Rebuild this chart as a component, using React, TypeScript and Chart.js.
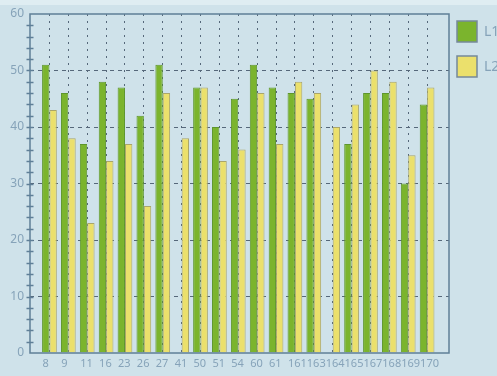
import { useEffect, useRef } from 'react';
import { Chart, registerables } from 'chart.js';

Chart.register(...registerables);

// Category labels along the x axis
const categories = ['8', '9', '11', '16', '23', '26', '27', '41', '50', '51', '54', '60', '61', '161', '163', '164', '165', '167', '168', '169', '170'];
// Series values
const seriesL1 = [51, 46, 37, 48, 47, 42, 51, 0, 47, 40, 45, 51, 47, 46, 45, 0, 37, 46, 46, 30, 44];
const seriesL2 = [43, 38, 23, 34, 37, 26, 46, 38, 47, 34, 36, 46, 37, 48, 46, 40, 44, 50, 48, 35, 47];
const seriesNames = ['L1', 'L2'];
// Value axis
const yMin = 0;
const yMax = 60;
const yMajorStep = 10;
const yMinorStep = 2;

const GREEN = '#7bb42d';
const GREEN_EDGE = '#5e962c';
const YELLOW = '#ebe06c';
const YELLOW_EDGE = '#aaa66a';
const AXIS = '#5f7f97';
const GRID = '#56687a';
const LABEL = '#86a3b9';
const FONT = '"Noto Sans", "DejaVu Sans", sans-serif';

const backdrop = {
  id: 'backdrop',
  beforeDraw(chart: any) {
    const { ctx, width, height } = chart;
    ctx.save();
    ctx.fillStyle = '#cfe2ea';
    ctx.fillRect(0, 0, width, height);
    ctx.fillStyle = '#dfedf2';
    ctx.fillRect(0, 0, width, 5);
    ctx.restore();
  },
};

const frameAndLegend = {
  id: 'frameAndLegend',
  afterDatasetsDraw(chart: any) {
    const { ctx, chartArea } = chart;
    const { left, right, top, bottom } = chartArea;
    const y = chart.scales.y;
    ctx.save();
    ctx.strokeStyle = AXIS;
    ctx.lineWidth = 1.5;
    ctx.strokeRect(left, top, right - left, bottom - top);
    // minor tick marks crossing the value axis
    ctx.beginPath();
    for (let v = yMin + yMinorStep; v < yMax; v += yMinorStep) {
      const py = Math.round(y.getPixelForValue(v)) + 0.5;
      ctx.moveTo(left - 3.5, py);
      ctx.lineTo(left + 3.5, py);
    }
    ctx.stroke();
    ctx.restore();
  },
  afterDraw(chart: any) {
    const { ctx, chartArea } = chart;
    const fills = [GREEN, YELLOW];
    ctx.save();
    ctx.font = `14px ${FONT}`;
    ctx.textBaseline = 'middle';
    ctx.textAlign = 'left';
    seriesNames.forEach((name, i) => {
      const bx = chartArea.right + 8;
      const by = chartArea.top + 7 + i * 35;
      ctx.fillStyle = fills[i];
      ctx.fillRect(bx, by, 20, 21);
      ctx.strokeStyle = '#76899a';
      ctx.lineWidth = 1.5;
      ctx.strokeRect(bx, by, 20, 21);
      ctx.fillStyle = LABEL;
      ctx.fillText(name, bx + 27, by + 11);
    });
    ctx.restore();
  },
};

export default function App() {
  const canvasRef = useRef<HTMLCanvasElement>(null);

  useEffect(() => {
    const canvas = canvasRef.current;
    if (!canvas) return;
    const chart = new Chart(canvas, {
      type: 'bar',
      data: {
        datasets: [
          {
            label: seriesNames[0],
            data: seriesL1.map((v, i) => ({ x: i, y: v })),
            backgroundColor: GREEN,
            borderColor: GREEN_EDGE,
            borderWidth: 1,
          },
          {
            label: seriesNames[1],
            data: seriesL2.map((v, i) => ({ x: i, y: v })),
            backgroundColor: YELLOW,
            borderColor: YELLOW_EDGE,
            borderWidth: 1,
          },
        ],
      },
      options: {
        animation: false,
        responsive: false,
        maintainAspectRatio: false,
        datasets: { bar: { categoryPercentage: 0.78, barPercentage: 1 } },
        layout: { padding: { top: 14, right: 48, left: 0, bottom: 0 } },
        plugins: { legend: { display: false }, tooltip: { enabled: false } },
        scales: {
          x: {
            type: 'linear',
            min: -1.03,
            max: 21.16,
            offset: false,
            afterBuildTicks: (axis: any) => {
              axis.ticks = categories.map((_, i) => ({ value: i }));
            },
            afterFit: (axis: any) => {
              axis.height = 23;
            },
            ticks: {
              autoSkip: false,
              maxRotation: 0,
              minRotation: 0,
              align: 'start',
              labelOffset: -7,
              padding: 4,
              color: LABEL,
              font: { family: FONT, size: 11 },
              callback: (v: any) => categories[v] ?? '',
            },
            grid: {
              offset: false,
              color: GRID,
              lineWidth: 1,
              drawTicks: false,
              borderDash: [2, 5],
            },
            border: { display: false, dash: [2, 5] },
          } as any,
          y: {
            min: yMin,
            max: yMax,
            afterFit: (axis: any) => {
              axis.width = 30;
            },
            ticks: {
              stepSize: yMinorStep,
              autoSkip: false,
              padding: 6,
              color: LABEL,
              font: { family: FONT, size: 12 },
              callback: (v: any) => (v % yMajorStep === 0 ? String(v) : ''),
            },
            grid: {
              color: (c: any) => {
                const v = c.tick?.value;
                return v % yMajorStep === 0 && v > yMin && v < yMax ? GRID : 'transparent';
              },
              lineWidth: 1,
              drawTicks: false,
              borderDash: [4, 4],
            },
            border: { display: false, dash: [4, 4] },
          } as any,
        },
      },
      plugins: [backdrop, frameAndLegend],
    } as any);
    return () => chart.destroy();
  }, []);

  return (
    <div style={{ position: 'fixed', left: 0, top: 0, width: 497, height: 376, overflow: 'hidden' }}>
      <canvas ref={canvasRef} width={497} height={376} style={{ display: 'block', width: 497, height: 376 }} />
    </div>
  );
}
